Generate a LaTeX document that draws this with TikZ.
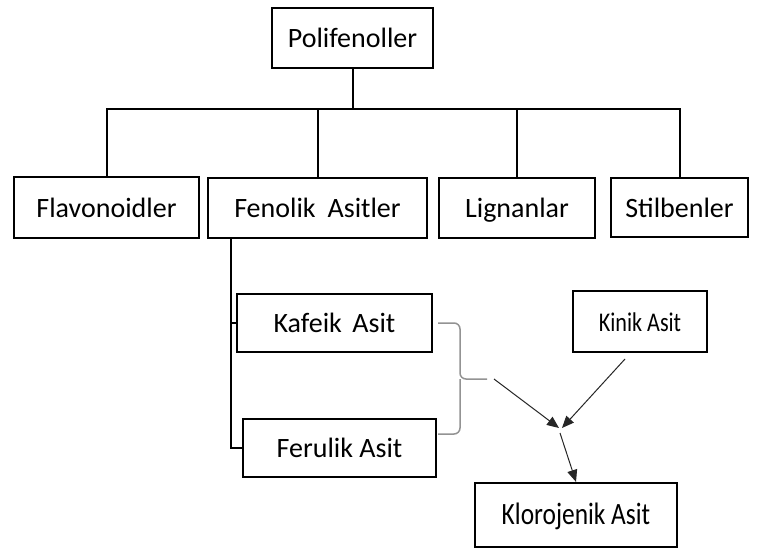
\documentclass[tikz,border=0pt]{standalone}
\usepackage{fontspec}
\setmainfont{Carlito}
\newfontfamily\narrowfont[FakeStretch=0.82]{Carlito}
\usetikzlibrary{arrows.meta}
\begin{document}
\begin{tikzpicture}[x=1pt,y=-1pt,
  box/.style={draw=black,line width=2.2pt,inner sep=0pt,text height=22pt,text depth=3pt,font=\fontsize{28}{32}\selectfont},
  conn/.style={draw=black,line width=2pt},
  brace/.style={draw=gray!85,line width=1.5pt,rounded corners=6pt},
  arr/.style={draw=black!85,line width=1pt,-{Triangle[length=12pt,width=10pt]}}]
\useasboundingbox[fill=white] (0,0) rectangle (759,548);
\node[box,minimum width=161pt,minimum height=60pt] (poli) at (352.5,38) {Polifenoller};
\node[box,minimum width=185pt,minimum height=61pt] (flav) at (106.5,207.5) {Flavonoidler};
\node[box,minimum width=219pt,minimum height=60pt] (fenol) at (317.5,208) {Fenolik\hspace{0.2em} Asitler};
\node[box,minimum width=156pt,minimum height=60pt] (lign) at (517,208) {Lignanlar};
\node[box,minimum width=137pt,minimum height=59pt] (stil) at (679.5,207.5) {Stilbenler};
\node[box,minimum width=195pt,minimum height=58pt] (kaf) at (334.5,323) {Kafeik\hspace{0.15em} Asit};
\node[box,minimum width=193pt,minimum height=58pt] (fer) at (339.5,448) {Ferulik Asit};
\node[box,minimum width=134pt,minimum height=61pt,font=\narrowfont\fontsize{27}{30}\selectfont] (kin) at (640,321.5) {Kinik Asit};
\node[box,minimum width=202pt,minimum height=64pt,text height=23pt,text depth=5pt,font=\narrowfont\fontsize{31}{34}\selectfont] (klor) at (576,515) {Klorojenik Asit};
% top tree
\coordinate (bus) at (352.5,109);
\draw[conn] (poli.south) -- (bus);
\draw[conn] (bus) -| (flav.north);
\draw[conn] (bus) -| (fenol.north);
\draw[conn] (bus) -| (lign.north);
\draw[conn] (bus) -| (stil.north);
% Fenolik children
\coordinate (trunk) at (231,238);
\draw[conn] (trunk) |- (kaf.west);
\draw[conn] (trunk) |- (fer.west);
% brace
\coordinate (kafr) at (438,323);
\coordinate (ferr) at (438,434);
\coordinate (btip) at (487,379);
\draw[brace] (kafr) -- (460,323) -- (460,379) -- (btip);
\draw[brace] (ferr) -- (460,434) -- (460,379);
% arrows
\coordinate (bstart) at (494,379);
\coordinate (meet) at (559,428);
\coordinate (kinfrom) at (625,359);
\coordinate (down) at (560,433);
\draw[arr] (bstart) -- (meet);
\draw[arr] (kinfrom) -- ([xshift=3pt]meet);
\draw[arr] (down) -- (klor.north);
\end{tikzpicture}
\end{document}
